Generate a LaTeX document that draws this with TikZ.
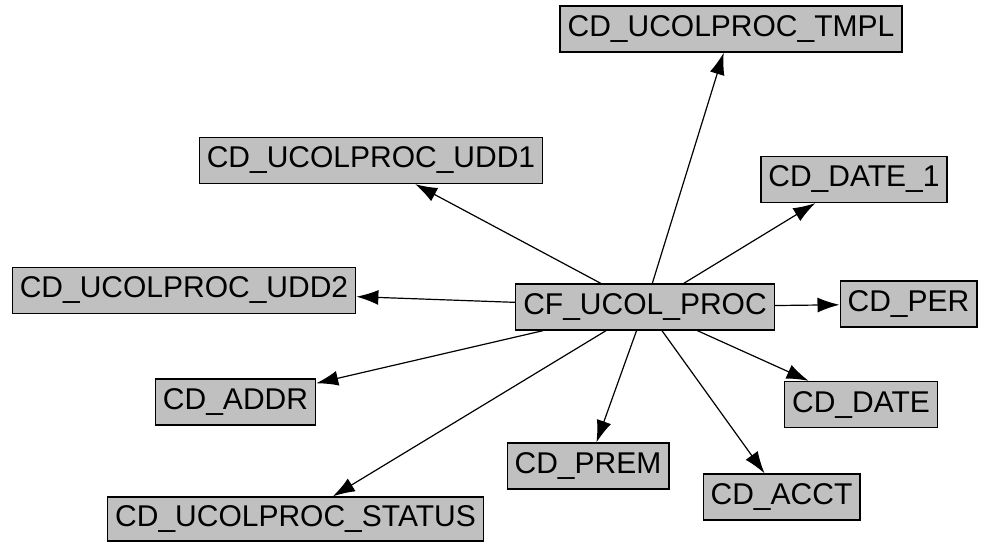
\documentclass[tikz,border=0pt]{standalone}
\usepackage{fontspec}
\setmainfont{Liberation Sans}
\usetikzlibrary{arrows.meta}
\definecolor{boxgray}{RGB}{192,192,192}

\begin{document}
\begin{tikzpicture}[x=1pt,y=-1pt,
	tbl/.style={draw=black,line width=1.3pt,fill=boxgray,inner xsep=7.5pt,inner ysep=0pt,
		minimum height=46pt,font=\fontsize{30}{34}\selectfont},
	link/.style={line width=1.2pt,-{Latex[length=22pt,width=15pt]}}]
	% 画布
	\useasboundingbox (0,0) rectangle (984,541);
	% 中心表
	\node[tbl] (proc) at (645,307) {CF\_UCOL\_PROC};
	% 维度表
	\node[tbl] (tmpl) at (731,29) {CD\_UCOLPROC\_TMPL};
	\node[tbl] (udd1) at (371,160.5) {CD\_UCOLPROC\_UDD1};
	\node[tbl] (date1) at (854,179.5) {CD\_DATE\_1};
	\node[tbl] (udd2) at (184,290.5) {CD\_UCOLPROC\_UDD2};
	\node[tbl] (per) at (908.5,304) {CD\_PER};
	\node[tbl] (addr) at (235.5,402) {CD\_ADDR};
	\node[tbl] (date) at (861,404.5) {CD\_DATE};
	\node[tbl] (prem) at (588,466) {CD\_PREM};
	\node[tbl] (acct) at (781.5,497) {CD\_ACCT};
	\node[tbl,minimum height=44pt] (status) at (295.5,519) {CD\_UCOLPROC\_STATUS};
	% 连线
	\foreach \t in {tmpl,udd1,date1,udd2,per,addr,date,prem,acct,status}
		\draw[link] (proc) -- (\t);
\end{tikzpicture}
\end{document}
